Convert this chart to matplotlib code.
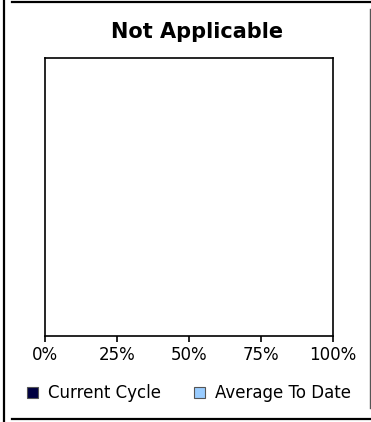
import matplotlib
matplotlib.use("Agg")
import matplotlib.pyplot as plt
from matplotlib.patches import Patch
from matplotlib.lines import Line2D

title = "Not Applicable"
series_names = ["Current Cycle", "Average To Date"]
series_colors = ["#000040", "#99CCFF"]
categories = []
current_cycle = []
average_to_date = []
tick_values = [0, 25, 50, 75, 100]
tick_labels = ["0%", "25%", "50%", "75%", "100%"]

W, H = 371, 422
fig = plt.figure(figsize=(W / 100, H / 100), dpi=100)
fig.patch.set_facecolor("white")

def fx(px):
    return px / W

def fy(py):
    return 1 - py / H

ax = fig.add_axes([fx(45), fy(336), fx(333) - fx(45), fy(58) - fy(336)])
ypos = list(range(len(categories)))
if categories:
    ax.barh([y - 0.2 for y in ypos], current_cycle, height=0.4, color=series_colors[0])
    ax.barh([y + 0.2 for y in ypos], average_to_date, height=0.4, color=series_colors[1])
ax.set_xlim(0, 100)
ax.set_ylim(0, 1)
ax.set_xticks(tick_values)
ax.set_xticklabels(tick_labels, family="DejaVu Sans", fontsize=12)
ax.set_yticks([])
ax.tick_params(axis="x", direction="out", length=4, width=1.2, pad=3, colors="black")
for s in ax.spines.values():
    s.set_linewidth(1.2)
    s.set_color("black")

fig.text(fx(197), fy(38), title, ha="center", va="baseline",
         fontsize=15, fontweight="bold", family="DejaVu Sans")

handles = [Patch(facecolor=c, edgecolor="#555555", linewidth=0.8) for c in series_colors]
fig.legend(handles, series_names, loc="center", bbox_to_anchor=(fx(189), fy(393)),
           ncol=2, frameon=False, prop={"family": "DejaVu Sans", "size": 12},
           handlelength=0.66, handleheight=0.66, handletextpad=0.6, columnspacing=2.0,
           borderpad=0, borderaxespad=0)

# outer frame lines
fig.add_artist(Line2D([fx(4), fx(4)], [0, 1], color="black", linewidth=1.6))
fig.add_artist(Line2D([fx(12), 1], [fy(2), fy(2)], color="black", linewidth=1.6))
fig.add_artist(Line2D([fx(12), 1], [fy(419), fy(419)], color="black", linewidth=1.6))
fig.add_artist(Line2D([fx(369.5), fx(369.5)], [fy(9), fy(408)], color="#555555", linewidth=1.0))

fig.savefig("out.png", dpi=100)
